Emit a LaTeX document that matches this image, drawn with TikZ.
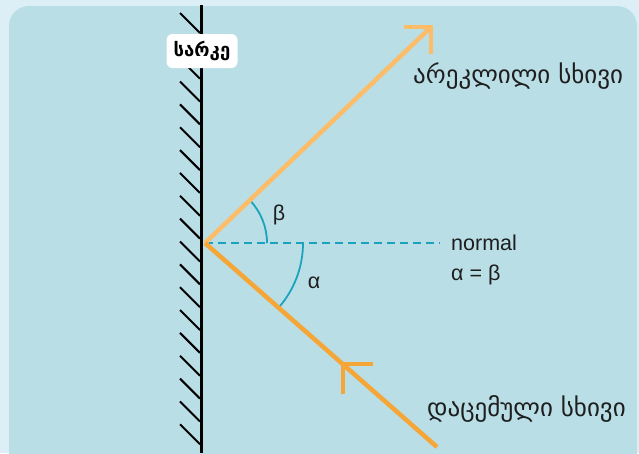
\documentclass[tikz,border=0pt]{standalone}
\usepackage{fontspec}
\usetikzlibrary{calc}
\setmainfont{Liberation Sans}
\newfontfamily\geo{DejaVu Sans}
\definecolor{outerbg}{RGB}{220,239,246}
\definecolor{innerbg}{RGB}{185,222,230}
\definecolor{reflcol}{RGB}{253,188,104}
\definecolor{inccol}{RGB}{246,165,55}
\definecolor{normcol}{RGB}{27,163,190}
\definecolor{txt}{RGB}{30,30,30}
\begin{document}
\begin{tikzpicture}[x=1pt,y=-1pt,
  hatch/.style={line width=2pt,black},
  mirror/.style={line width=3pt,black},
  refl/.style={line width=4.5pt,reflcol},
  inc/.style={line width=4.5pt,inccol},
  normline/.style={line width=1.5pt,normcol,dash pattern=on 8pt off 5pt},
  arcc/.style={line width=1.8pt,normcol},
  geolab/.style={font=\geo\fontsize{25}{28}\selectfont,text=txt,inner sep=0pt},
  sanslab/.style={font=\fontsize{21.5}{24}\selectfont,text=txt,inner sep=0pt},
  labelbox/.style={fill=white,rounded corners=6pt,minimum width=71pt,minimum height=34pt,inner sep=2pt,font=\geo\bfseries\fontsize{18.5}{22}\selectfont,text=black}]
\useasboundingbox (0,0) rectangle (639,453);
\fill[outerbg] (0,0) rectangle (639,453);
\fill[innerbg,rounded corners=20pt] (9,6) rectangle (637,490);
\foreach \k in {0,...,18} \draw[hatch] (180,13+22.85*\k) -- ++(20,20);
\coordinate (mtop) at (201,5);
\coordinate (mbot) at (201,453);
\draw[mirror] (mtop) -- (mbot);
\node[labelbox] (mlabel) at (202,51) {სარკე};
\coordinate (O) at (205,243);
\coordinate (R) at (431,27);
\coordinate (I) at (437,447);
\coordinate (N) at (440,243);
\coordinate (M) at (343,364);
\draw[normline] (O) -- (N);
\draw[arcc] (O) ++(62,0) arc[start angle=0,end angle=-43.7,radius=62];
\draw[arcc] (O) ++(98,0) arc[start angle=0,end angle=41.4,radius=98];
\draw[refl] (O) -- (R);
\draw[refl] ($(R)+(-27,0)$) -- (R) -- ($(R)+(0,27)$);
\draw[inc] (I) -- (O);
\draw[inc] ($(M)+(30,0)$) -- (M) -- ($(M)+(0,30)$);
\node[sanslab] (beta) at (279,215) {β};
\node[sanslab] (alpha) at (314,283) {α};
\node[sanslab,anchor=west] (normal) at (451,243) {normal};
\node[sanslab,anchor=west] (eq) at (451,275) {α = β};
\node[geolab,anchor=west] (reflab) at (413,76) {არეკლილი სხივი};
\node[geolab,anchor=west] (inclab) at (427,409) {დაცემული სხივი};
\end{tikzpicture}
\end{document}
